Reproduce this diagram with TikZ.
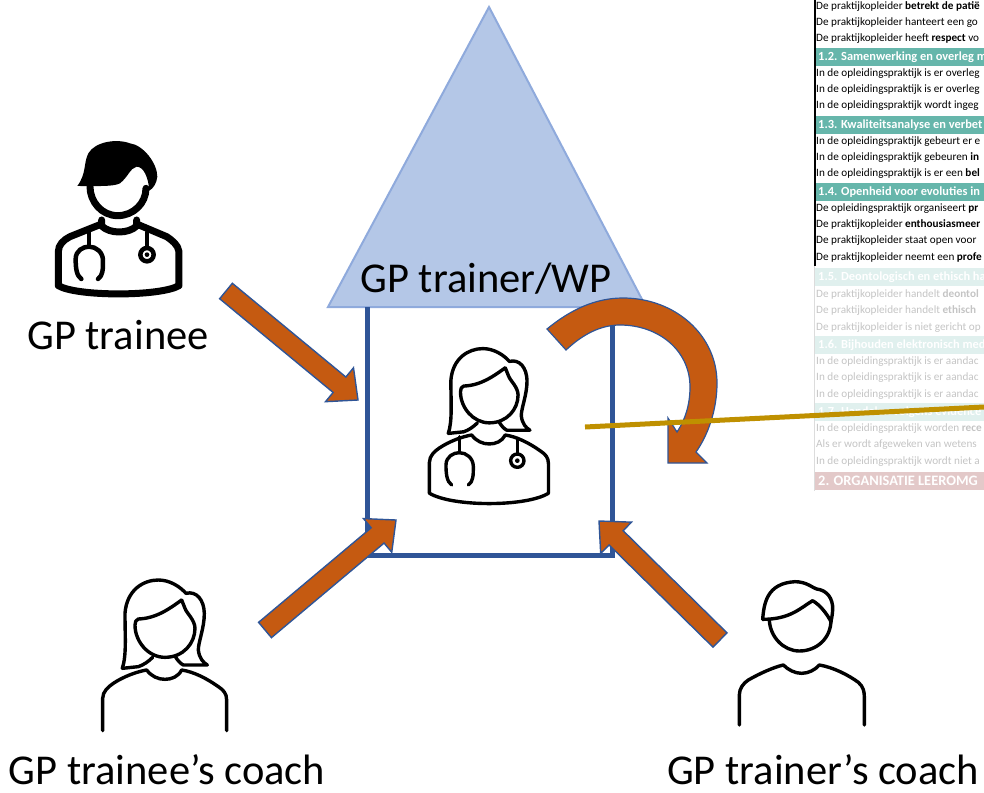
\documentclass[tikz,border=0pt]{standalone}
\usepackage{fontspec}
\setmainfont{Carlito}
\usetikzlibrary{calc}
\definecolor{roofblue}{HTML}{B4C7E7}
\definecolor{roofedge}{HTML}{8FAADC}
\definecolor{wallblue}{HTML}{2F5597}
\definecolor{arroworange}{HTML}{C55A11}
\definecolor{linegold}{HTML}{BF9000}
\definecolor{headteal}{HTML}{66B6AB}
\definecolor{fadeteal}{HTML}{E0F0EE}
\definecolor{fadered}{HTML}{E3C9C9}
\definecolor{fadetext}{HTML}{C4C4C4}
\tikzset{
  bigtext/.style={font=\fontsize{42.5}{50}\selectfont, inner sep=0pt},
  rowtext/.style={anchor=west, inner sep=0pt, font=\fontsize{11.2}{13}\selectfont},
  headrow/.style={anchor=west, minimum width=170pt, minimum height=18pt, inner sep=0pt, text=white, font=\bfseries\fontsize{12.4}{15}\selectfont},
  wall/.style={draw=wallblue, line width=5pt},
  icon/.style={line width=3.4pt, line cap=round, line join=round},
  blockarrow/.style={fill=arroworange, draw=wallblue, line width=1.4pt, line join=miter,
    to path={let \p1=($(\tikztotarget)!24pt!(\tikztostart)$) in
      ($(\tikztostart)!10pt!90:(\tikztotarget)$) -- ($(\p1)!10pt!90:(\tikztotarget)$) -- ($(\p1)!22pt!90:(\tikztotarget)$) -- (\tikztotarget)
      -- ($(\p1)!22pt!-90:(\tikztotarget)$) -- ($(\p1)!10pt!-90:(\tikztotarget)$) -- ($(\tikztostart)!10pt!-90:(\tikztotarget)$) -- cycle}}
}
\newcommand{\bandtext}[1]{\makebox[168pt][l]{\hspace{2pt}#1}}
% woman, head and shoulders
\newcommand{\womanicon}{
\draw (127,295) .. controls (140,255) and (135,200) .. (135,130) .. controls (140,60) and (190,30) .. (235,30)
  .. controls (270,30) and (300,50) .. (318,70) .. controls (350,62) and (372,90) .. (373,130)
  .. controls (373,175) and (355,215) .. (355,240) .. controls (358,265) and (370,278) .. (382,285)
  -- (310,285) .. controls (300,280) and (292,270) .. (285,258);
\draw (127,295) -- (175,290) .. controls (190,285) and (205,275) .. (218,262);
\draw (305,90) .. controls (270,115) and (230,145) .. (175,147) .. controls (168,150) and (165,155) .. (165,165)
  .. controls (165,215) and (205,262) .. (255,262) .. controls (310,262) and (345,220) .. (345,175)
  .. controls (345,150) and (320,130) .. (315,115) -- (305,90);
\draw (68,482) -- (68,385) .. controls (68,365) and (85,350) .. (100,340) .. controls (130,320) and (170,305) .. (200,300)
  .. controls (215,320) and (235,328) .. (255,328) .. controls (275,328) and (295,320) .. (305,300)
  .. controls (340,305) and (380,325) .. (415,350) .. controls (430,360) and (440,370) .. (440,390) -- (440,482);
}
% stethoscope
\newcommand{\scopeicon}{
\draw (178,320) -- (178,368);
\draw (155,465) .. controls (140,455) and (138,430) .. (138,405) .. controls (138,380) and (160,368) .. (178,368)
  .. controls (200,368) and (220,385) .. (220,410) .. controls (220,435) and (220,455) .. (205,465);
\draw (352,325) -- (352,372);
\draw (352,392) circle (20);
\fill (352,392) circle (7);
}
\begin{document}
\begin{tikzpicture}[x=1pt,y=-1pt]
\useasboundingbox (0,0) rectangle (984,792);
% table
\foreach \ypos/\rowname/\txt in {
  7/a/{De praktijkopleider \textbf{betrekt de patië}},
  23/b/{De praktijkopleider hanteert een go},
  39/c/{De praktijkopleider heeft \textbf{respect} vo},
  74/d/{In de opleidingspraktijk is er overleg},
  90/e/{In de opleidingspraktijk is er overleg},
  106/f/{In de opleidingspraktijk wordt ingeg},
  142/g/{In de opleidingspraktijk gebeurt er e},
  158/h/{In de opleidingspraktijk gebeuren \textbf{in}},
  174/i/{In de opleidingspraktijk is er een \textbf{bel}},
  209/j/{De opleidingspraktijk organiseert \textbf{pr}},
  225/k/{De praktijkopleider \textbf{enthousiasmeer}},
  241/l/{De praktijkopleider staat open voor},
  258/m/{De praktijkopleider neemt een \textbf{profe}}}
  \node[rowtext] (row\rowname) at (816,\ypos) {\txt};
\foreach \ypos/\rowname/\txt in {
  295/n/{De praktijkopleider handelt \textbf{deontol}},
  311/o/{De praktijkopleider handelt \textbf{ethisch}},
  328/p/{De praktijkopleider is niet gericht op},
  362/q/{In de opleidingspraktijk is er aandac},
  378/r/{In de opleidingspraktijk is er aandac},
  395/s/{In de opleidingspraktijk is er aandac},
  429/t/{In de opleidingspraktijk worden \textbf{rece}},
  445/u/{Als er wordt afgeweken van wetens},
  462/v/{In de opleidingspraktijk wordt niet a}}
  \node[rowtext, text=fadetext] (row\rowname) at (816,\ypos) {\txt};
\foreach \ypos/\rowname/\txt in {
  57/w/{1.2. Samenwerking en overleg m},
  125/x/{1.3. Kwaliteitsanalyse en verbet},
  192/y/{1.4. Openheid voor evoluties in}}
  \node[headrow, fill=headteal] (head\rowname) at (815,\ypos) {\bandtext{\txt}};
\foreach \ypos/\rowname/\txt in {
  277/a/{1.5. Deontologisch en ethisch ha},
  345/b/{1.6. Bijhouden elektronisch med},
  412/c/{1.7. Handelen volgens evidence}}
  \node[headrow, fill=fadeteal] (fade\rowname) at (815,\ypos) {\bandtext{\txt}};
\node[headrow, fill=fadered, font=\bfseries\fontsize{14.4}{17}\selectfont] (headorg) at (815,481) {\bandtext{2. ORGANISATIE LEEROMG}};
\draw[line width=2pt] (814.5,0) -- (814.5,266);
\draw[fadetext!60, line width=1.5pt] (814.5,266) -- (814.5,491);
% house
\coordinate (roofleft) at (328,307);
\coordinate (roofright) at (646,307);
\coordinate (rooftop) at (489,7);
\fill[roofblue, draw=roofedge, line width=2pt] (roofleft) -- (rooftop) -- (roofright) -- cycle;
\node[bigtext] (trainerlabel) at (486,279) {GP trainer/WP};
\coordinate (wallnw) at (367,307);
\coordinate (wallsw) at (367,555);
\coordinate (wallse) at (612,555);
\coordinate (wallne) at (612,320);
\draw[wall, line join=miter] (wallnw) -- (wallsw) -- (wallse) -- (wallne);
% people
\begin{scope}[shift={(400,330)}, x=0.3333pt, y=-0.3333pt, icon]
  \begin{scope}[shift={(23,27)}, x=0.32pt, y=-0.32pt]
    \womanicon
    \draw (68,482) .. controls (140,525) and (370,525) .. (440,482);
  \end{scope}
  \scopeicon
\end{scope}
\begin{scope}[shift={(80,570)}, x=0.3333pt, y=-0.3333pt, icon]
  \womanicon
\end{scope}
\begin{scope}[shift={(720,570)}, x=0.3333pt, y=-0.3333pt, icon]
  \draw (128,148) .. controls (210,148) and (240,115) .. (278,92) .. controls (300,105) and (320,130) .. (333,155);
  \draw (128,148) .. controls (132,100) and (140,40) .. (225,35) .. controls (260,35) and (280,55) .. (290,57)
    .. controls (320,60) and (340,85) .. (338,120) .. controls (337,135) and (335,145) .. (333,155);
  \draw (148,150) .. controls (150,200) and (190,243) .. (238,243) .. controls (290,243) and (333,205) .. (333,150);
  \draw (58,465) -- (58,375) .. controls (58,355) and (70,340) .. (85,330) .. controls (120,310) and (160,292) .. (190,285)
    .. controls (205,300) and (225,310) .. (245,310) .. controls (265,310) and (285,300) .. (298,285)
    .. controls (340,292) and (385,315) .. (415,337) .. controls (430,350) and (433,365) .. (433,380) -- (433,465);
\end{scope}
\begin{scope}[shift={(20,120)}, x=0.3333pt, y=-0.3333pt, icon]
  \fill (172,198) .. controls (200,160) and (190,130) .. (205,100) .. controls (225,65) and (290,55) .. (330,70)
    .. controls (370,75) and (412,130) .. (412,170) .. controls (410,190) and (400,205) .. (388,212)
    .. controls (385,170) and (370,140) .. (350,140) .. controls (330,145) and (325,170) .. (300,190)
    .. controls (280,200) and (240,198) .. (172,198) -- cycle;
  \begin{scope}[line width=7pt]
    \draw (210,200) .. controls (210,245) and (245,287) .. (293,287) .. controls (340,287) and (378,250) .. (378,205);
    \draw (245,300) -- (245,312) -- (150,350) .. controls (130,360) and (115,375) .. (115,395) -- (115,497)
      .. controls (170,530) and (420,530) .. (477,497) -- (477,395) .. controls (475,375) and (455,360) .. (440,350) -- (350,312) -- (350,300);
    \draw (245,318) .. controls (270,342) and (325,342) .. (350,318);
  \end{scope}
  \begin{scope}[shift={(29,12)}, x=0.3333pt, y=-0.3333pt, line width=4.5pt]
    \scopeicon
  \end{scope}
\end{scope}
% labels
\node[bigtext] (traineelabel) at (118,335) {GP trainee};
\node[bigtext] (traineecoachlabel) at (167,770) {GP trainee’s coach};
\node[bigtext] (trainercoachlabel) at (823,770) {GP trainer’s coach};
% arrows
\coordinate (traineetail) at (226,291);
\coordinate (traineetip) at (358,400);
\coordinate (traineecoachtail) at (265,630);
\coordinate (traineecoachtip) at (396,520);
\coordinate (trainercoachtail) at (720,640);
\coordinate (trainercoachtip) at (599,521);
\draw[blockarrow] (traineetail) to (traineetip);
\draw[blockarrow] (traineecoachtail) to (traineecoachtip);
\draw[blockarrow] (trainercoachtail) to (trainercoachtip);
% reflection
\fill[arroworange, draw=wallblue, line width=1.2pt] (547,329) .. controls (570,310) and (595,298) .. (623,298)
  .. controls (675,298) and (717,335) .. (717,383) .. controls (717,410) and (708,435) .. (696,452)
  -- (707,463) -- (668,463) -- (668,418) -- (677,432) .. controls (685,420) and (690,405) .. (690,387)
  .. controls (690,350) and (658,325) .. (620,325) .. controls (600,325) and (582,335) .. (566,350) -- cycle;
\coordinate (linestart) at (585,427);
\coordinate (lineend) at (984,407);
\draw[linegold, line width=5pt] (linestart) -- (lineend);
\end{tikzpicture}
\end{document}
